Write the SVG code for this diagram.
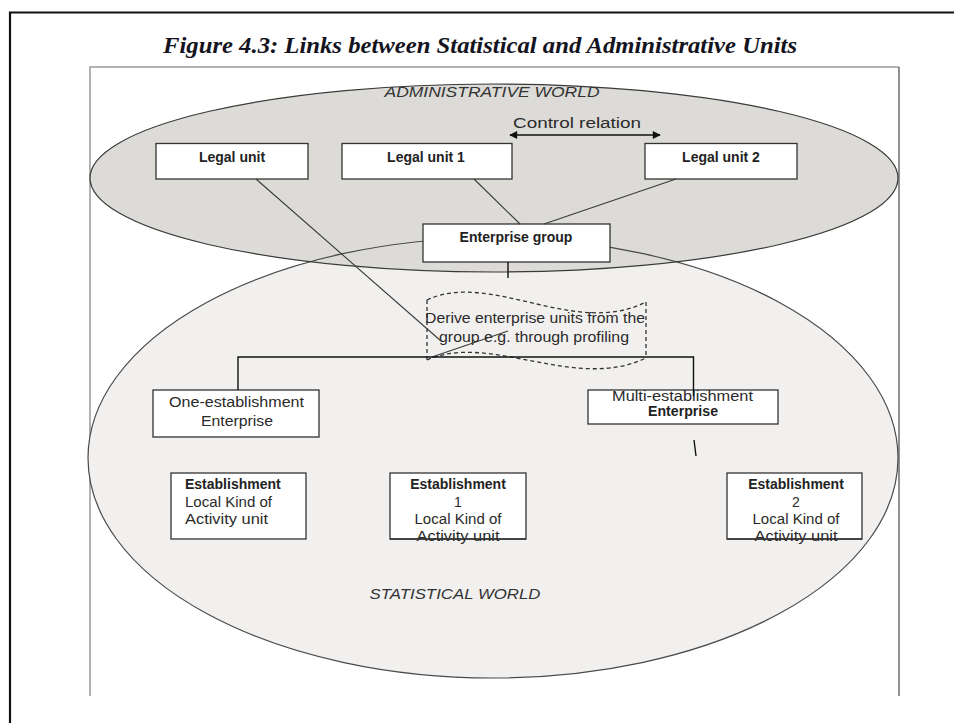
<svg xmlns="http://www.w3.org/2000/svg" width="954" height="723" viewBox="0 0 954 723">
<defs>
<style>
.box{fill:#fff;stroke:#333;stroke-width:1.3}
.b{font-family:"Liberation Sans",Arial,sans-serif;font-size:14px;font-weight:bold;fill:#222;text-anchor:middle}
.r{font-family:"Liberation Sans",Arial,sans-serif;font-size:14px;fill:#2a2a2a;text-anchor:middle}
.st{text-anchor:start}
.w{font-family:"Liberation Sans",Arial,sans-serif;font-size:15px;font-style:italic;fill:#333;text-anchor:middle}
.ln{fill:none;stroke:#3a3a3a;stroke-width:1.1}
.dk{fill:none;stroke:#111;stroke-width:1.4}
</style>
<marker id="ah" viewBox="0 0 10 10" refX="9" refY="5" markerWidth="9" markerHeight="8" markerUnits="userSpaceOnUse" orient="auto-start-reverse">
<path d="M0,0 L10,5 L0,10 z" fill="#111"/>
</marker>
</defs>
<rect width="954" height="723" fill="#fff"/>
<path d="M10,723 V12.5 H954" fill="none" stroke="#111" stroke-width="2.2"/>
<text x="163" y="53" font-family="'Liberation Serif','Times New Roman',serif" font-size="23" font-weight="bold" font-style="italic" fill="#141420" textLength="634" lengthAdjust="spacingAndGlyphs">Figure 4.3: Links between Statistical and Administrative Units</text>
<path d="M90,696 V67 H899" fill="none" stroke="#999" stroke-width="1.5"/>
<path d="M899,67 V696" fill="none" stroke="#555" stroke-width="1.3"/>
<g id="worlds">
<ellipse cx="493" cy="458" rx="405" ry="220" fill="#f1f0ef"/>
<ellipse cx="494" cy="178" rx="404" ry="94" fill="#dcdbd7"/>
<ellipse cx="493" cy="458" rx="405" ry="220" fill="none" stroke="#4a4a4a" stroke-width="1.2"/>
<ellipse cx="494" cy="178" rx="404" ry="94" fill="none" stroke="#3a3a3a" stroke-width="1.2"/>
<text class="w" x="492" y="97" textLength="215" lengthAdjust="spacingAndGlyphs">ADMINISTRATIVE WORLD</text>
<text class="w" x="455" y="599" textLength="171" lengthAdjust="spacingAndGlyphs">STATISTICAL WORLD</text>
</g>
<g id="legal-unit">
<rect class="box" x="156" y="143.5" width="152" height="35.5"/>
<text class="b" x="232" y="162">Legal unit</text>
</g>
<g id="legal-unit-1">
<rect class="box" x="342" y="143.5" width="170" height="35.5"/>
<text class="b" x="426" y="162">Legal unit 1</text>
</g>
<g id="legal-unit-2">
<rect class="box" x="645" y="143.5" width="152" height="35.5"/>
<text class="b" x="721" y="162">Legal unit 2</text>
</g>
<g id="control-relation">
<text class="r" x="577" y="128" font-size="16" textLength="128" lengthAdjust="spacingAndGlyphs">Control relation</text>
</g>
<g id="enterprise-group">
<rect class="box" x="423" y="224" width="187" height="38"/>
<text class="b" x="516" y="242">Enterprise group</text>
</g>
<g id="derive">
<path d="M427,300 C490,270 575,338 646,302 M427,360 C490,332 575,392 646,358 M427,300 V360 M646,302 V358" fill="none" stroke="#333" stroke-width="1.3" stroke-dasharray="4 3"/>
<text class="r" x="535" y="323" fill="#333" textLength="220" lengthAdjust="spacingAndGlyphs">Derive enterprise units from the</text>
<text class="r" x="534" y="342" fill="#333" textLength="190" lengthAdjust="spacingAndGlyphs">group e.g. through profiling</text>
</g>
<g id="one-establishment-enterprise">
<rect class="box" x="153" y="390" width="166" height="47"/>
<text class="r" x="236.5" y="407" textLength="135" lengthAdjust="spacingAndGlyphs">One-establishment</text>
<text class="r" x="237" y="426" textLength="72" lengthAdjust="spacingAndGlyphs">Enterprise</text>
</g>
<g id="multi-establishment-enterprise">
<rect class="box" x="588" y="390" width="190" height="34"/>
<text class="r" x="682.5" y="401" textLength="141" lengthAdjust="spacingAndGlyphs">Multi-establishment</text>
<text class="b" x="683" y="416" textLength="70" lengthAdjust="spacingAndGlyphs">Enterprise</text>
</g>
<g id="establishment">
<rect class="box" x="171" y="473" width="135" height="66"/>
<text class="b st" x="185" y="489">Establishment</text>
<text class="r st" x="185" y="507" textLength="87" lengthAdjust="spacingAndGlyphs">Local Kind of</text>
<text class="r st" x="185" y="524" textLength="83" lengthAdjust="spacingAndGlyphs">Activity unit</text>
</g>
<g id="establishment-1">
<rect class="box" x="390" y="473" width="136" height="66"/>
<text class="b" x="458" y="489">Establishment</text>
<text class="r" x="458" y="507">1</text>
<text class="r" x="458" y="524" textLength="87" lengthAdjust="spacingAndGlyphs">Local Kind of</text>
<text class="r" x="458" y="541" textLength="83" lengthAdjust="spacingAndGlyphs">Activity unit</text>
<line x1="390" y1="539" x2="526" y2="539" stroke="#333" stroke-width="1.3"/>
</g>
<g id="establishment-2">
<rect class="box" x="727" y="473" width="135" height="66"/>
<text class="b" x="796" y="489">Establishment</text>
<text class="r" x="796" y="507">2</text>
<text class="r" x="796" y="524" textLength="87" lengthAdjust="spacingAndGlyphs">Local Kind of</text>
<text class="r" x="796" y="541" textLength="83" lengthAdjust="spacingAndGlyphs">Activity unit</text>
<line x1="727" y1="539" x2="862" y2="539" stroke="#333" stroke-width="1.3"/>
</g>
<g id="connectors">
<line class="dk" x1="510" y1="135" x2="660" y2="135" marker-start="url(#ah)" marker-end="url(#ah)"/>
<line class="ln" x1="474" y1="179" x2="520" y2="224"/>
<line class="ln" x1="676" y1="179" x2="544" y2="224"/>
<line class="ln" x1="256" y1="179" x2="441" y2="341"/>
<line class="dk" x1="508" y1="262" x2="508" y2="278"/>
<line class="ln" x1="508" y1="331" x2="432" y2="357"/>
<path class="dk" d="M238,390 V357 H693.5 V396"/>
<line class="dk" x1="694" y1="440" x2="696" y2="456"/>
</g>
</svg>
